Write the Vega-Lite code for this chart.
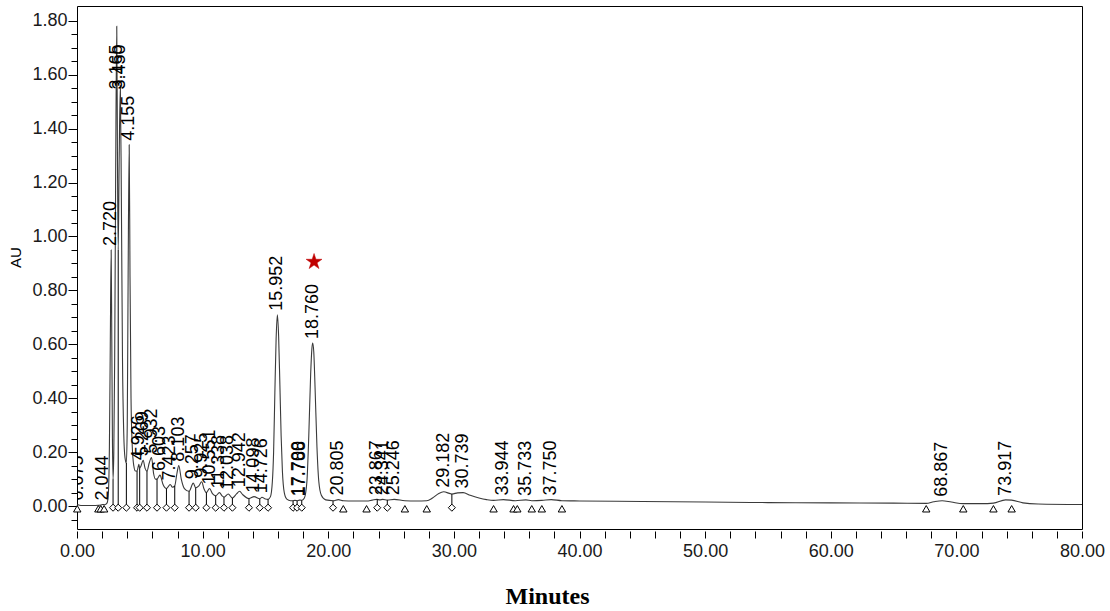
{
  "$schema": "https://vega.github.io/schema/vega-lite/v6.json",
  "autosize": {"type": "none"},
  "padding": {"left": 77, "top": 6, "right": 28, "bottom": 82},
  "width": 1005,
  "height": 523,
  "background": "white",
  "config": {"view": {"stroke": "#000", "strokeWidth": 1}, "font": "Liberation Sans"},
  "resolve": {"axis": {"x": "independent", "y": "independent"}},
  "datasets": {
    "trace": [
      {"t":0,"v":0.003},{"t":0.04,"v":0.004},{"t":0.075,"v":0.006},{"t":0.12,"v":0.004},{"t":0.5,"v":0.002},{"t":1.2,"v":0.002},{"t":1.7,"v":0.003},{"t":1.9,"v":0.004},{"t":2.044,"v":0.006},{"t":2.2,"v":0.005},{"t":2.4,"v":0.012},{"t":2.5,"v":0.05},{"t":2.58,"v":0.22},{"t":2.65,"v":0.6},{"t":2.72,"v":0.95},{"t":2.77,"v":0.62},{"t":2.82,"v":0.25},{"t":2.87,"v":0.1},{"t":2.93,"v":0.2},{"t":3.0,"v":0.55},{"t":3.08,"v":1.25},{"t":3.165,"v":1.78},{"t":3.22,"v":1.3},{"t":3.28,"v":0.95},{"t":3.36,"v":1.3},{"t":3.45,"v":1.56},{"t":3.53,"v":1.15},{"t":3.62,"v":0.55},{"t":3.72,"v":0.27},{"t":3.82,"v":0.18},{"t":3.93,"v":0.16},{"t":4.0,"v":0.3},{"t":4.07,"v":0.85},{"t":4.155,"v":1.34},{"t":4.22,"v":0.85},{"t":4.3,"v":0.4},{"t":4.4,"v":0.22},{"t":4.52,"v":0.15},{"t":4.65,"v":0.13},{"t":4.78,"v":0.13},{"t":4.926,"v":0.155},{"t":4.99,"v":0.14},{"t":5.1,"v":0.15},{"t":5.269,"v":0.17},{"t":5.42,"v":0.14},{"t":5.57,"v":0.13},{"t":5.75,"v":0.16},{"t":5.932,"v":0.18},{"t":6.1,"v":0.12},{"t":6.25,"v":0.1},{"t":6.37,"v":0.1},{"t":6.603,"v":0.115},{"t":6.85,"v":0.08},{"t":7.12,"v":0.065},{"t":7.423,"v":0.08},{"t":7.6,"v":0.07},{"t":7.78,"v":0.075},{"t":7.95,"v":0.12},{"t":8.103,"v":0.15},{"t":8.3,"v":0.1},{"t":8.55,"v":0.065},{"t":8.92,"v":0.055},{"t":9.257,"v":0.085},{"t":9.45,"v":0.068},{"t":9.7,"v":0.075},{"t":9.925,"v":0.09},{"t":10.1,"v":0.065},{"t":10.3,"v":0.05},{"t":10.551,"v":0.065},{"t":10.8,"v":0.045},{"t":11.04,"v":0.038},{"t":11.338,"v":0.05},{"t":11.55,"v":0.038},{"t":11.7,"v":0.033},{"t":12.038,"v":0.045},{"t":12.37,"v":0.03},{"t":12.7,"v":0.045},{"t":12.942,"v":0.055},{"t":13.2,"v":0.042},{"t":13.69,"v":0.028},{"t":14.098,"v":0.035},{"t":14.55,"v":0.027},{"t":14.726,"v":0.033},{"t":15.0,"v":0.026},{"t":15.21,"v":0.025},{"t":15.4,"v":0.035},{"t":15.55,"v":0.09},{"t":15.65,"v":0.2},{"t":15.75,"v":0.42},{"t":15.85,"v":0.62},{"t":15.952,"v":0.71},{"t":16.05,"v":0.63},{"t":16.15,"v":0.45},{"t":16.25,"v":0.26},{"t":16.35,"v":0.13},{"t":16.5,"v":0.05},{"t":16.7,"v":0.026},{"t":17.0,"v":0.02},{"t":17.2,"v":0.02},{"t":17.35,"v":0.021},{"t":17.52,"v":0.02},{"t":17.7,"v":0.022},{"t":17.788,"v":0.022},{"t":17.89,"v":0.021},{"t":18.1,"v":0.03},{"t":18.3,"v":0.09},{"t":18.45,"v":0.26},{"t":18.6,"v":0.49},{"t":18.7,"v":0.585},{"t":18.76,"v":0.605},{"t":18.85,"v":0.57},{"t":18.95,"v":0.44},{"t":19.1,"v":0.22},{"t":19.25,"v":0.09},{"t":19.45,"v":0.04},{"t":19.8,"v":0.023},{"t":20.38,"v":0.02},{"t":20.805,"v":0.024},{"t":21.2,"v":0.02},{"t":22.0,"v":0.019},{"t":23.05,"v":0.019},{"t":23.5,"v":0.022},{"t":23.867,"v":0.025},{"t":24.1,"v":0.023},{"t":24.341,"v":0.025},{"t":24.7,"v":0.022},{"t":25.246,"v":0.025},{"t":26.1,"v":0.02},{"t":27.0,"v":0.019},{"t":27.84,"v":0.02},{"t":28.3,"v":0.03},{"t":28.8,"v":0.047},{"t":29.182,"v":0.053},{"t":29.84,"v":0.045},{"t":30.3,"v":0.049},{"t":30.739,"v":0.05},{"t":31.3,"v":0.04},{"t":32.0,"v":0.03},{"t":32.6,"v":0.024},{"t":33.16,"v":0.021},{"t":33.944,"v":0.024},{"t":34.9,"v":0.02},{"t":35.733,"v":0.023},{"t":36.2,"v":0.02},{"t":37.0,"v":0.021},{"t":37.75,"v":0.024},{"t":38.6,"v":0.02},{"t":40,"v":0.019},{"t":45,"v":0.017},{"t":50,"v":0.015},{"t":55,"v":0.013},{"t":60,"v":0.012},{"t":65,"v":0.011},{"t":67.6,"v":0.01},{"t":68.2,"v":0.016},{"t":68.867,"v":0.02},{"t":69.6,"v":0.015},{"t":70.55,"v":0.009},{"t":72.0,"v":0.009},{"t":72.95,"v":0.011},{"t":73.917,"v":0.023},{"t":74.4,"v":0.022},{"t":75.3,"v":0.012},{"t":76.5,"v":0.008},{"t":80,"v":0.006}
    ],
    "peaks": [
      {"t":0.075,"h":0.006,"label":"0.075"},{"t":2.044,"h":0.006,"label":"2.044"},{"t":2.72,"h":0.95,"label":"2.720"},{"t":3.165,"h":1.78,"label":"3.165"},{"t":3.45,"h":1.56,"label":"3.450"},{"t":4.155,"h":1.34,"label":"4.155"},{"t":4.926,"h":0.155,"label":"4.926"},{"t":5.269,"h":0.17,"label":"5.269"},{"t":5.932,"h":0.18,"label":"5.932"},{"t":6.603,"h":0.115,"label":"6.603"},{"t":7.423,"h":0.08,"label":"7.423"},{"t":8.103,"h":0.15,"label":"8.103"},{"t":9.257,"h":0.085,"label":"9.257"},{"t":9.925,"h":0.09,"label":"9.925"},{"t":10.551,"h":0.065,"label":"10.551"},{"t":11.338,"h":0.05,"label":"11.338"},{"t":12.038,"h":0.045,"label":"12.038"},{"t":12.942,"h":0.055,"label":"12.942"},{"t":14.098,"h":0.035,"label":"14.098"},{"t":14.726,"h":0.033,"label":"14.726"},{"t":15.952,"h":0.71,"label":"15.952"},{"t":17.7,"h":0.022,"label":"17.700"},{"t":17.788,"h":0.022,"label":"17.788"},{"t":18.76,"h":0.605,"label":"18.760"},{"t":20.805,"h":0.024,"label":"20.805"},{"t":23.867,"h":0.025,"label":"23.867"},{"t":24.341,"h":0.025,"label":"24.341"},{"t":25.246,"h":0.025,"label":"25.246"},{"t":29.182,"h":0.053,"label":"29.182"},{"t":30.739,"h":0.05,"label":"30.739"},{"t":33.944,"h":0.024,"label":"33.944"},{"t":35.733,"h":0.023,"label":"35.733"},{"t":37.75,"h":0.024,"label":"37.750"},{"t":68.867,"h":0.02,"label":"68.867"},{"t":73.917,"h":0.023,"label":"73.917"}
    ],
    "markers": [
      {"t":0.02,"kind":"t","top":0.003},{"t":1.7,"kind":"t","top":0.003},{"t":1.89,"kind":"t","top":0.004},{"t":2.16,"kind":"t","top":0.005},{"t":21.2,"kind":"t","top":0.02},{"t":23.05,"kind":"t","top":0.019},{"t":26.1,"kind":"t","top":0.02},{"t":27.84,"kind":"t","top":0.02},{"t":33.16,"kind":"t","top":0.021},{"t":34.75,"kind":"t","top":0.02},{"t":35.05,"kind":"t","top":0.02},{"t":36.2,"kind":"t","top":0.02},{"t":37.0,"kind":"t","top":0.021},{"t":38.6,"kind":"t","top":0.02},{"t":67.6,"kind":"t","top":0.01},{"t":70.55,"kind":"t","top":0.009},{"t":72.95,"kind":"t","top":0.011},{"t":74.4,"kind":"t","top":0.022},
      {"t":2.87,"kind":"d","top":0.1},{"t":3.28,"kind":"d","top":0.95},{"t":3.93,"kind":"d","top":0.16},{"t":4.78,"kind":"d","top":0.13},{"t":4.99,"kind":"d","top":0.14},{"t":5.57,"kind":"d","top":0.13},{"t":6.37,"kind":"d","top":0.1},{"t":7.12,"kind":"d","top":0.065},{"t":7.78,"kind":"d","top":0.075},{"t":8.92,"kind":"d","top":0.055},{"t":9.45,"kind":"d","top":0.068},{"t":10.3,"kind":"d","top":0.05},{"t":11.04,"kind":"d","top":0.038},{"t":11.7,"kind":"d","top":0.033},{"t":12.37,"kind":"d","top":0.03},{"t":13.69,"kind":"d","top":0.028},{"t":14.55,"kind":"d","top":0.027},{"t":15.21,"kind":"d","top":0.025},{"t":17.2,"kind":"d","top":0.02},{"t":17.52,"kind":"d","top":0.02},{"t":17.89,"kind":"d","top":0.021},{"t":20.38,"kind":"d","top":0.02},{"t":23.9,"kind":"d","top":0.025},{"t":24.7,"kind":"d","top":0.022},{"t":29.84,"kind":"d","top":0.045}
    ],
    "star": [{"t":18.87,"v":0.906}]
  },
  "layer": [
    {
      "data": {"name": "trace"},
      "mark": {"type": "line", "interpolate": "monotone", "stroke": "#3a3a3a", "strokeWidth": 1.1, "clip": true},
      "encoding": {
        "x": {
          "field": "t", "type": "quantitative",
          "scale": {"domain": [0, 80], "nice": false, "zero": false},
          "axis": {
            "title": "Minutes",
            "values": [0,2,4,6,8,10,12,14,16,18,20,22,24,26,28,30,32,34,36,38,40,42,44,46,48,50,52,54,56,58,60,62,64,66,68,70,72,74,76,78,80],
            "labelExpr": "datum.value % 10 === 0 ? format(datum.value, '.2f') : ''",
            "labelOverlap": false, "labelFlush": false, "labelBound": false,
            "domain": false, "grid": false,
            "offset": 2, "tickSize": 7, "tickColor": "#000", "tickWidth": 1,
            "labelFont": "Liberation Sans", "labelFontSize": 18, "labelColor": "#1a1a1a", "labelPadding": 4,
            "titleFont": "Liberation Serif", "titleFontSize": 24, "titleFontWeight": "bold", "titleColor": "#000",
            "titleX": 470, "titleY": 72, "titleBaseline": "alphabetic", "titleAlign": "center"
          }
        },
        "y": {
          "field": "v", "type": "quantitative",
          "scale": {"domain": [-0.085, 1.855], "nice": false, "zero": false},
          "axis": {
            "title": "AU",
            "values": [-0.05,0,0.05,0.1,0.15,0.2,0.25,0.3,0.35,0.4,0.45,0.5,0.55,0.6,0.65,0.7,0.75,0.8,0.85,0.9,0.95,1,1.05,1.1,1.15,1.2,1.25,1.3,1.35,1.4,1.45,1.5,1.55,1.6,1.65,1.7,1.75,1.8],
            "labelExpr": "abs(datum.value * 5 - round(datum.value * 5)) < 0.001 ? format(datum.value, '.2f') : ''",
            "labelOverlap": false, "labelFlush": false, "labelBound": false,
            "domain": false, "grid": false,
            "tickSize": {"condition": {"test": "abs(datum.value * 5 - round(datum.value * 5)) < 0.001", "value": 9}, "value": 6},
            "tickColor": "#000", "tickWidth": 1,
            "labelFont": "Liberation Sans", "labelFontSize": 18, "labelColor": "#1a1a1a", "labelPadding": 1,
            "titleFont": "Liberation Sans", "titleFontSize": 15, "titleFontWeight": "normal", "titleColor": "#000",
            "titleX": -62, "titleY": 251, "titleBaseline": "middle", "titleAlign": "center"
          }
        }
      }
    },
    {
      "data": {"name": "markers"},
      "transform": [{"filter": {"field": "kind", "equal": "d"}}],
      "mark": {"type": "rule", "stroke": "#000", "strokeWidth": 1},
      "encoding": {
        "x": {"field": "t", "type": "quantitative", "axis": null},
        "y": {"field": "top", "type": "quantitative", "axis": null},
        "y2": {"datum": 0}
      }
    },
    {
      "data": {"name": "markers"},
      "transform": [{"filter": {"field": "kind", "equal": "d"}}],
      "mark": {"type": "point", "shape": "diamond", "filled": true, "fill": "white", "stroke": "#000", "strokeWidth": 1, "size": 50, "opacity": 1},
      "encoding": {
        "x": {"field": "t", "type": "quantitative", "axis": null},
        "y": {"datum": -0.006, "type": "quantitative", "axis": null}
      }
    },
    {
      "data": {"name": "markers"},
      "transform": [{"filter": {"field": "kind", "equal": "t"}}],
      "mark": {"type": "point", "shape": "triangle-up", "filled": true, "fill": "white", "stroke": "#000", "strokeWidth": 1, "size": 55, "opacity": 1},
      "encoding": {
        "x": {"field": "t", "type": "quantitative", "axis": null},
        "y": {"datum": -0.01, "type": "quantitative", "axis": null}
      }
    },
    {
      "data": {"name": "peaks"},
      "transform": [{"calculate": "min(datum.h, 1.53)", "as": "lv"}],
      "mark": {"type": "text", "angle": 270, "align": "left", "baseline": "middle", "dx": 4, "font": "Liberation Sans", "fontSize": 18, "color": "#000", "clip": true},
      "encoding": {
        "x": {"field": "t", "type": "quantitative", "axis": null},
        "y": {"field": "lv", "type": "quantitative", "axis": null},
        "text": {"field": "label", "type": "nominal"}
      }
    },
    {
      "data": {"name": "star"},
      "mark": {"type": "point", "shape": "M0,-1L0.2245,-0.309L0.951,-0.309L0.363,0.118L0.588,0.809L0,0.382L-0.588,0.809L-0.363,0.118L-0.951,-0.309L-0.2245,-0.309Z", "filled": true, "fill": "#c00000", "stroke": "#c00000", "strokeWidth": 0.5, "size": 280, "opacity": 1},
      "encoding": {
        "x": {"field": "t", "type": "quantitative", "axis": null},
        "y": {"field": "v", "type": "quantitative", "axis": null}
      }
    }
  ]
}
